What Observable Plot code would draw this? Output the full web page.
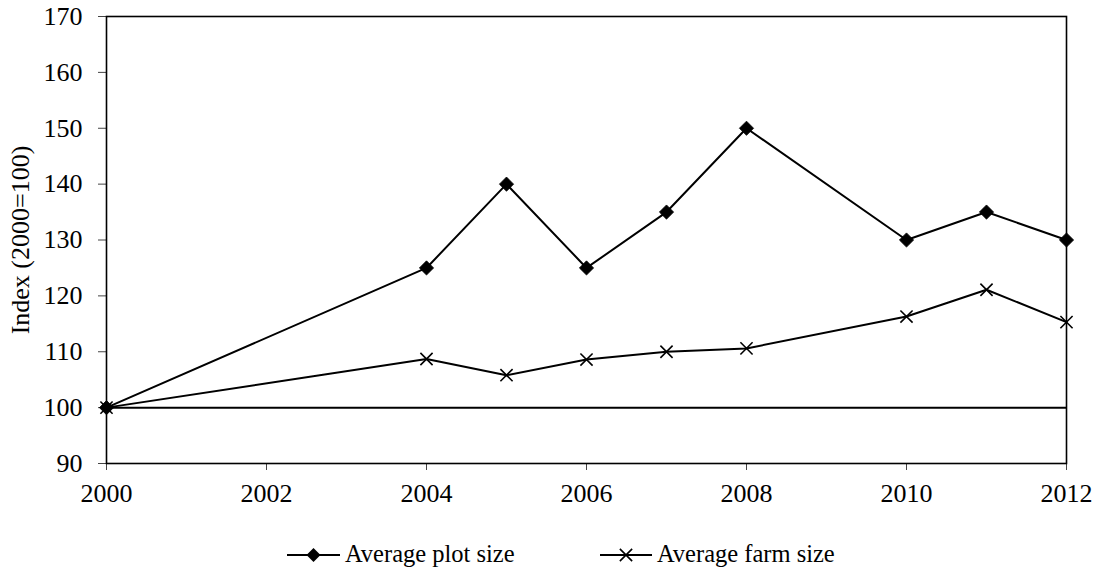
<!DOCTYPE html>
<html>
<head>
<meta charset="utf-8">
<script src="https://cdn.jsdelivr.net/npm/d3@7"></script>
<script src="https://cdn.jsdelivr.net/npm/@observablehq/plot@0.6"></script>
<style>
  html, body { margin: 0; padding: 0; background: white; }
  #wrap { width: 1099px; height: 573px; font-family: 'Liberation Serif'; }
  #wrap svg { display: block; }
  #wrap svg text { font-family: 'Liberation Serif' !important; }
</style>
</head>
<body>
<div id="wrap">
  <div id="chart"></div>
  <div id="legend"></div>
</div>
<script>
const years = [2000, 2004, 2005, 2006, 2007, 2008, 2010, 2011, 2012];
const plotSize = [100, 125, 140, 125, 135, 150, 130, 135, 130];
const farmSize = [100, 108.7, 105.8, 108.6, 110.0, 110.6, 116.3, 121.1, 115.3];
const seriesNames = ["Average plot size", "Average farm size"];
const xTicks = [2000, 2002, 2004, 2006, 2008, 2010, 2012];
const yTicks = [90, 100, 110, 120, 130, 140, 150, 160, 170];

const plotRows = years.map((y, i) => ({year: y, value: plotSize[i], series: seriesNames[0]}));
const farmRows = years.map((y, i) => ({year: y, value: farmSize[i], series: seriesNames[1]}));

const chart = Plot.plot({
  width: 1099,
  height: 520,
  marginLeft: 106,
  marginRight: 33,
  marginTop: 16,
  marginBottom: 57,
  style: {fontFamily: "'Liberation Serif'", fontSize: "26px", color: "black", background: "white"},
  x: {domain: [2000, 2012]},
  y: {domain: [90, 170]},
  marks: [
    Plot.axisX({ticks: xTicks, tickFormat: "d", tickSize: 7, tickPadding: 13, label: null, stroke: "#444", fill: "black"}),
    Plot.axisY({ticks: yTicks, tickSize: 8, tickPadding: 16, label: "Index (2000=100)", labelAnchor: "center", labelArrow: "none", labelOffset: 96, stroke: "#444", fill: "black"}),
    Plot.ruleY([100], {stroke: "black", strokeWidth: 2}),
    Plot.frame({stroke: "black", strokeWidth: 1.6}),
    Plot.line(plotRows, {x: "year", y: "value", stroke: "black", strokeWidth: 2}),
    Plot.line(farmRows, {x: "year", y: "value", stroke: "black", strokeWidth: 2}),
    Plot.dot(plotRows, {x: "year", y: "value", symbol: "diamond2", fill: "black", stroke: "black", strokeWidth: 0.8, r: 6.4}),
    Plot.dot(farmRows, {x: "year", y: "value", symbol: "times", stroke: "black", strokeWidth: 1.6, r: 5.6})
  ]
});
document.getElementById("chart").appendChild(chart);

// legend below the chart
const lineX = [[287, 340], [600, 652]];
const textX = [345, 657];
const lg = d3.create("svg").attr("width", 1099).attr("height", 53)
  .style("font-family", "'Liberation Serif'").style("font-size", "24.5px");
seriesNames.forEach((name, i) => {
  const [x1, x2] = lineX[i];
  const cy = 35;
  lg.append("line").attr("x1", x1).attr("x2", x2).attr("y1", cy).attr("y2", cy)
    .attr("stroke", "black").attr("stroke-width", 2);
  const cx = (x1 + x2) / 2;
  if (i === 0) {
    lg.append("path").attr("d", d3.symbol(d3.symbolDiamond2, 125)())
      .attr("transform", `translate(${cx},${cy})`).attr("fill", "black");
  } else {
    lg.append("path").attr("d", d3.symbol(d3.symbolTimes, 100)())
      .attr("transform", `translate(${cx},${cy})`).attr("stroke", "black")
      .attr("stroke-width", 1.6).attr("fill", "none");
  }
  lg.append("text").attr("x", textX[i]).attr("y", 42).attr("fill", "black").text(name);
});
document.getElementById("legend").appendChild(lg.node());
</script>
</body>
</html>
